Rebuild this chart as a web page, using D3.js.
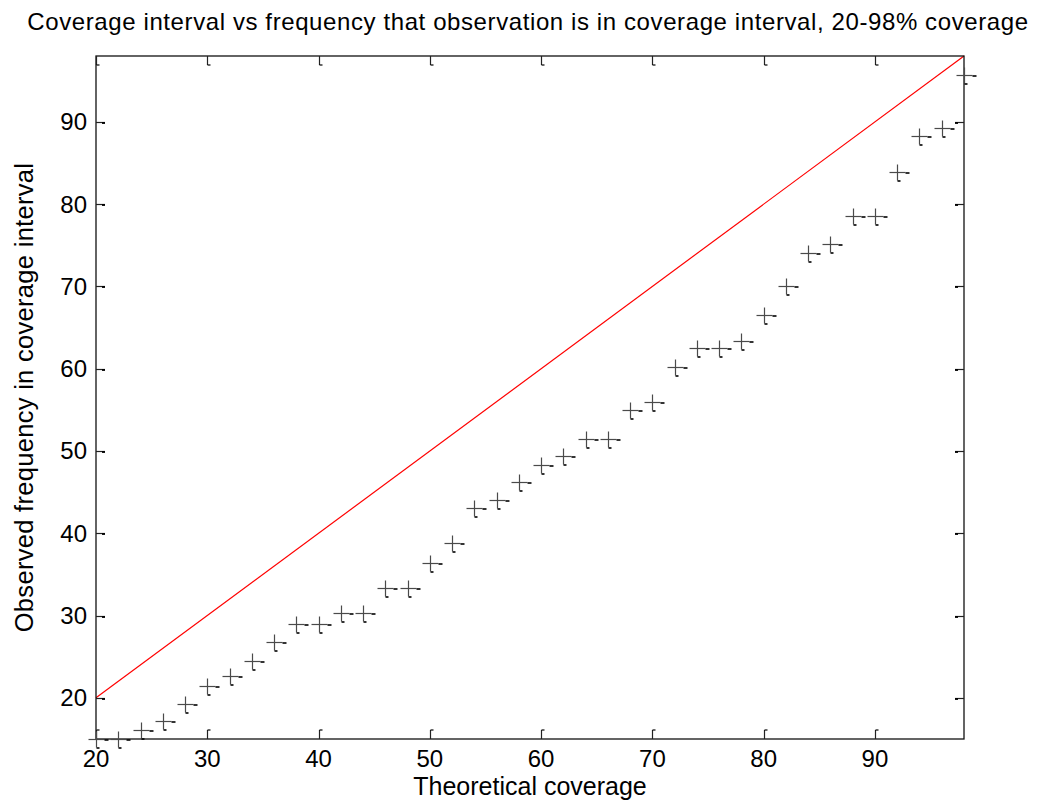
<!DOCTYPE html>
<html>
<head>
<meta charset="utf-8">
<script src="https://cdn.jsdelivr.net/npm/d3@7"></script>
<style>
  html, body { margin: 0; padding: 0; background: #fff; }
  svg { display: block; }
  text { font-family: "Liberation Sans", Arial, Helvetica, sans-serif; fill: #000; }
</style>
</head>
<body>
<svg id="chart" width="1057" height="809"></svg>
<script>
// Theoretical coverage levels (%)
const theoretical = [20, 22, 24, 26, 28, 30, 32, 34, 36, 38, 40, 42, 44, 46, 48, 50, 52, 54, 56, 58,
                     60, 62, 64, 66, 68, 70, 72, 74, 76, 78, 80, 82, 84, 86, 88, 90, 92, 94, 96, 98];
// Observed frequency of observations inside the interval (%)
const observed = [15.0, 15.0, 16.1, 17.2, 19.2, 21.4, 22.6, 24.5, 26.8, 29.0, 29.0, 30.3, 30.3, 33.3, 33.3, 36.4, 38.8, 43.1, 44.1, 46.2,
                  48.3, 49.4, 51.5, 51.5, 55.0, 56.0, 60.2, 62.5, 62.5, 63.4, 66.5, 70.1, 74.1, 75.2, 78.5, 78.5, 83.9, 88.3, 89.2, 95.7];
// Reference line y = x
const refLine = [20, 98];
const xTicks = [20, 30, 40, 50, 60, 70, 80, 90];
const yTicks = [20, 30, 40, 50, 60, 70, 80, 90];

const titleText = "Coverage interval vs frequency that observation is in coverage interval, 20-98% coverage";
const xLabelText = "Theoretical coverage";
const yLabelText = "Observed frequency in coverage interval";

const svg = d3.select("#chart");
const box = { left: 96, right: 964, top: 56, bottom: 739 };

const x = d3.scaleLinear().domain([20, 98]).range([box.left, box.right]);
const y = d3.scaleLinear().domain([15, 98]).range([box.bottom, box.top]);

// Reference line
svg.append("line")
  .attr("x1", x(refLine[0])).attr("y1", y(refLine[0]))
  .attr("x2", x(refLine[1])).attr("y2", y(refLine[1]))
  .attr("stroke", "#ff0000").attr("stroke-width", 1.2);

// Plot frame
svg.append("rect")
  .attr("x", box.left).attr("y", box.top)
  .attr("width", box.right - box.left).attr("height", box.bottom - box.top)
  .attr("fill", "none").attr("stroke", "#111").attr("stroke-width", 1.3);

// Inward ticks on all four sides
const tickLen = 9;
const ticks = svg.append("g").attr("stroke", "#222").attr("stroke-width", 1.2);
xTicks.forEach(v => {
  const px = Math.round(x(v)) + 0.5;
  ticks.append("line").attr("x1", px).attr("x2", px).attr("y1", box.bottom).attr("y2", box.bottom - tickLen);
  ticks.append("line").attr("x1", px).attr("x2", px + 3).attr("y1", box.bottom - tickLen).attr("y2", box.bottom - tickLen).attr("stroke", "#000");
  ticks.append("line").attr("x1", px).attr("x2", px).attr("y1", box.top).attr("y2", box.top + tickLen);
  ticks.append("line").attr("x1", px).attr("x2", px + 3).attr("y1", box.top + tickLen).attr("y2", box.top + tickLen).attr("stroke", "#000");
});
yTicks.forEach(v => {
  const py = Math.round(y(v)) + 0.5;
  ticks.append("line").attr("x1", box.left).attr("x2", box.left + tickLen).attr("y1", py).attr("y2", py);
  ticks.append("line").attr("x1", box.left + tickLen - 3).attr("x2", box.left + tickLen).attr("y1", py + 0.5).attr("y2", py + 0.5).attr("stroke", "#000").attr("stroke-width", 1.8);
  ticks.append("line").attr("x1", box.right).attr("x2", box.right - tickLen).attr("y1", py).attr("y2", py);
  ticks.append("line").attr("x1", box.right - tickLen).attr("x2", box.right - tickLen + 3).attr("y1", py + 0.5).attr("y2", py + 0.5).attr("stroke", "#000").attr("stroke-width", 1.8);
});

// Tick labels
const tickFont = 24;
svg.append("g").selectAll("text").data(xTicks).join("text")
  .attr("x", d => x(d)).attr("y", 767)
  .attr("text-anchor", "middle").attr("font-size", tickFont)
  .text(d => d);
svg.append("g").selectAll("text").data(yTicks).join("text")
  .attr("x", 87).attr("y", d => y(d) + 8.5)
  .attr("text-anchor", "end").attr("font-size", tickFont)
  .text(d => d);

// Plus markers
const pts = theoretical.map((t, i) => [t, observed[i]]);
const half = 8;
const marks = svg.append("g");
pts.forEach(([t, o]) => {
  const cx = Math.round(x(t)) + 0.5, cy = Math.round(y(o)) + 0.5;
  marks.append("line").attr("x1", cx - half).attr("x2", cx + half).attr("y1", cy).attr("y2", cy)
    .attr("stroke", "#4a4a4a").attr("stroke-width", 1.2);
  marks.append("line").attr("x1", cx).attr("x2", cx).attr("y1", cy - half).attr("y2", cy + half)
    .attr("stroke", "#4a4a4a").attr("stroke-width", 1.2);
  marks.append("line").attr("x1", cx + half).attr("x2", cx + half + 4).attr("y1", cy + 0.5).attr("y2", cy + 0.5)
    .attr("stroke", "#000").attr("stroke-width", 1.6);
  marks.append("line").attr("x1", cx).attr("x2", cx + 3).attr("y1", cy + half + 0.5).attr("y2", cy + half + 0.5)
    .attr("stroke", "#000").attr("stroke-width", 1.6);
});

// Title and axis labels
svg.append("text").attr("x", 528).attr("y", 30)
  .attr("text-anchor", "middle").attr("font-size", 24).attr("letter-spacing", 0.6)
  .text(titleText);
svg.append("text").attr("x", (box.left + box.right) / 2).attr("y", 795)
  .attr("text-anchor", "middle").attr("font-size", 25)
  .text(xLabelText);
svg.append("text")
  .attr("transform", `translate(33, ${(box.top + box.bottom) / 2}) rotate(-90)`)
  .attr("text-anchor", "middle").attr("font-size", 25.5).attr("letter-spacing", 0.3)
  .text(yLabelText);
</script>
</body>
</html>
